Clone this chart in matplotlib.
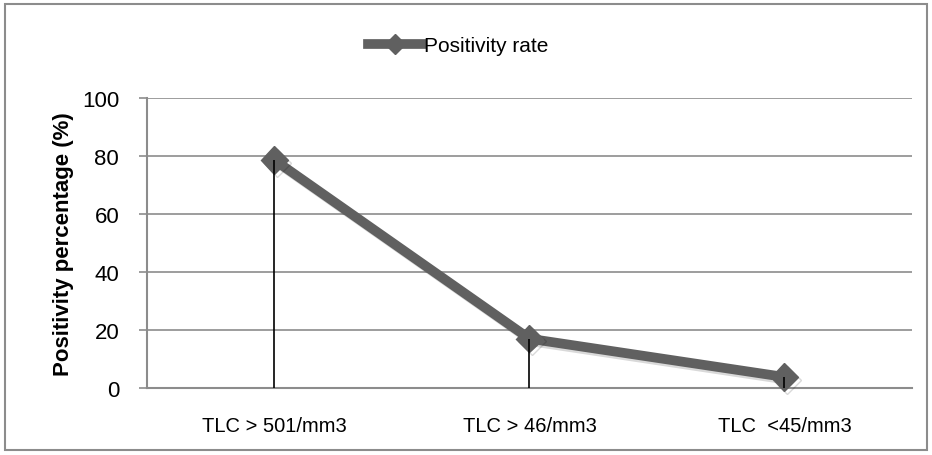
import numpy as np
import matplotlib

matplotlib.use("Agg")
import matplotlib.pyplot as plt
from matplotlib.patches import Rectangle
import matplotlib.patheffects as pe

plt.rcParams["font.family"] = ["Liberation Sans", "DejaVu Sans"]

categories = ["TLC > 501/mm3", "TLC > 46/mm3", "TLC  <45/mm3"]
positivity = [78.6, 17.0, 3.8]
y_ticks = [0, 20, 40, 60, 80, 100]

fig = plt.figure(figsize=(9.32, 4.56), dpi=100)
fig.patches.append(Rectangle((5 / 932, 5 / 456), 922 / 932, 446 / 456,
                             transform=fig.transFigure, fill=False,
                             edgecolor="#8c8c8c", linewidth=1.5))

ax = fig.add_axes([0.1577, 0.1469, 0.8208, 0.636])
x = np.arange(len(categories))

line_shadow = [pe.SimpleLineShadow(offset=(2, -2), shadow_color="#000000", alpha=0.15),
               pe.Normal()]
ax.plot(x, positivity, color="#606060", linewidth=7, marker="D", markersize=14,
        markerfacecolor="#606060", markeredgecolor="#606060", zorder=3,
        path_effects=line_shadow, clip_on=False)
# drop lines
ax.vlines(x, 0, positivity, color="black", linewidth=1.2, zorder=4)

# legend entry (no shadow)
ax.plot([], [], color="#606060", linewidth=7, marker="D", markersize=10,
        label="Positivity rate")

ax.set_xlim(-0.5, len(categories) - 0.5)
ax.set_ylim(0, 100)
ax.set_yticks(y_ticks)
ax.set_xticks(x)
ax.set_xticklabels(categories, fontsize=14.5)
ax.tick_params(axis="y", labelsize=16, length=6, color="#8c8c8c", width=1.2, pad=14)
ax.tick_params(axis="x", length=0, pad=20)
ax.grid(axis="y", color="#8c8c8c", linewidth=1.2)
ax.set_axisbelow(True)
for side in ["top", "right"]:
    ax.spines[side].set_visible(False)
for side in ["left", "bottom"]:
    ax.spines[side].set_color("#8c8c8c")
    ax.spines[side].set_linewidth(1.5)
ax.set_ylabel("Positivity percentage (%)", fontsize=16, fontweight="bold",
              labelpad=6)

ax.legend(loc="center", bbox_to_anchor=(458 / 932, 1 - 47 / 456),
          bbox_transform=fig.transFigure, frameon=False,
          fontsize=15, handlelength=2.6, handletextpad=0.1, borderaxespad=0)

fig.savefig("out.png", dpi=100)
